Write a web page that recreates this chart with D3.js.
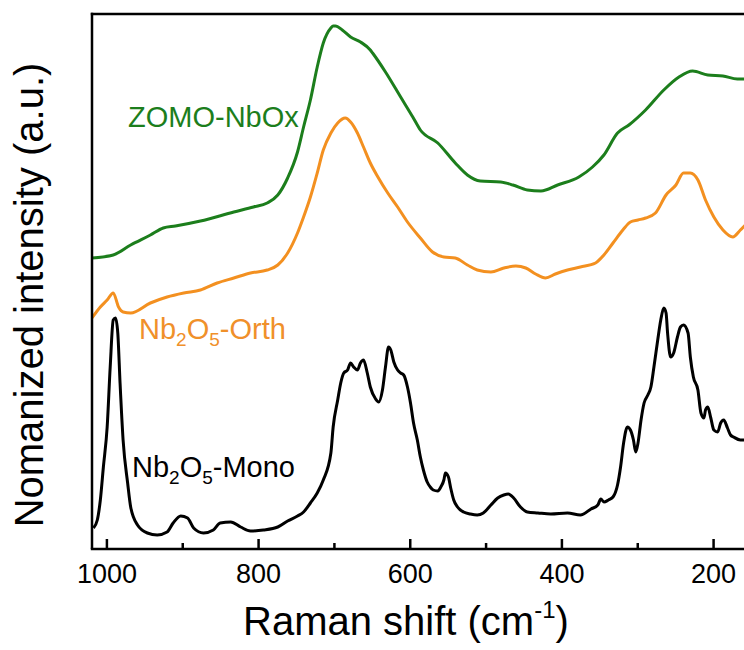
<!DOCTYPE html>
<html><head><meta charset="utf-8">
<script src="https://cdn.jsdelivr.net/npm/d3@7"></script>
<style>body{margin:0;background:#fff}svg{display:block;font-family:"Liberation Sans",Arial,sans-serif}</style>
</head><body>
<svg id="c" width="744" height="650"></svg>
<script>
// Raman shift (cm^-1) and normalized intensity (a.u.)
const greenShift = [1019,991,968,942,925,909,876,832,806,788,774,761,748,740,731,722,714,704,701,698,689,678,665,652,649,632,612,596,586,563,540,524,507,480,464,445,427,405,377,359,344,326,311,289,265,245,227,207,187,168,150];
const greenInt   = [291,294,304,314,321,323,328,337,342,346,354,371,397,422,449,482,506,521,523,523,519,512,507,499,496,477,452,432,419,406,386,374,368,367,364,359,358,364,372,382,394,416,424,439,459,472,478,474,473,470,470];

const orangeShift = [1019,1008,999,991,984,978,968,942,920,898,876,854,832,810,788,774,761,748,740,731,722,714,704,695,685,678,669,661,652,642,629,616,603,586,570,555,540,524,511,493,476,460,447,434,421,408,392,375,355,344,332,319,309,299,289,276,262,249,239,230,220,210,199,187,174,164,150];
const orangeInt   = [231,242,249,256,242,237,236,246,252,256,259,266,271,276,279,284,296,316,332,352,376,399,416,426,431,427,416,402,386,372,356,342,327,311,297,292,291,284,279,277,281,283,281,275,271,275,279,282,286,294,306,319,327,329,331,336,354,364,376,376,369,349,332,319,312,319,330];

const blackShift = [1017,1012,1008,1004,999,995,991,988,985,982,978,972,968,959,946,933,920,912,902,893,885,872,859,850,836,823,810,793,774,761,748,740,731,722,714,704,701,695,691,687,682,678,674,669,665,661,656,652,645,641,636,632,628,625,621,616,612,608,603,599,595,590,586,582,577,573,569,563,559,555,553,549,546,542,537,529,520,511,503,493,484,476,470,463,454,445,431,414,392,375,361,352,348,344,338,332,326,322,318,313,309,305,302,299,295,291,286,282,278,273,269,265,262,260,256,252,247,243,239,233,230,226,220,216,212,210,207,203,199,194,190,186,181,177,173,164,150];
const blackInt   = [21,29,49,82,122,182,229,231,216,166,109,66,42,24,16,14,17,26,33,31,21,16,19,26,27,22,18,19,22,28,33,37,46,56,69,96,122,149,166,176,179,186,182,179,186,189,176,162,150,147,159,182,202,199,187,179,176,174,162,146,126,109,92,79,67,62,59,58,62,69,76,72,61,49,42,37,35,34,36,44,51,54,55,51,42,37,36,35,36,34,40,44,50,47,49,52,64,82,106,122,119,109,97,106,129,146,154,162,182,209,229,241,236,216,192,196,212,222,224,216,192,172,159,136,131,139,142,131,119,117,126,129,121,114,112,109,109];

const seriesNames = ["ZOMO-NbOx", "Nb2O5-Orth", "Nb2O5-Mono"];
const majorTicks = [1000, 800, 600, 400, 200];
const minorTicks = [900, 700, 500, 300];

const svg = d3.select("#c");
const pL = 92, pT = 14, pB = 549, pR = 751;
const x = d3.scaleLinear().domain([1019, 150]).range([pL, pR]);
const y = d3.scaleLinear().domain([0, 535]).range([pB, pT]);

const defs = svg.append("defs");
defs.append("clipPath").attr("id","clip").append("rect")
  .attr("x", pL).attr("y", pT).attr("width", pR-pL).attr("height", pB-pT);

const line = d3.line().x(d => x(d[0])).y(d => y(d[1])).curve(d3.curveMonotoneX);
const series = [
  {s: greenShift, v: greenInt, c: "#1c7e1c"},
  {s: orangeShift, v: orangeInt, c: "#f39020"},
  {s: blackShift, v: blackInt, c: "#000000"}
];
const g = svg.append("g").attr("clip-path","url(#clip)");
series.forEach(se => {
  g.append("path").datum(se.s.map((d,i)=>[d, se.v[i]]))
    .attr("fill","none").attr("stroke", se.c).attr("stroke-width", 3)
    .attr("stroke-linejoin","round").attr("d", line);
});

// frame
svg.append("line").attr("x1", pL).attr("x2", pL).attr("y1", pT-1.2).attr("y2", pB)
  .attr("stroke","#000").attr("stroke-width",2.5);
svg.append("line").attr("x1", pL-1.2).attr("x2", 744).attr("y1", pT).attr("y2", pT)
  .attr("stroke","#000").attr("stroke-width",2.5);

const ax = svg.append("g").attr("transform", `translate(0,${pB})`)
  .call(d3.axisBottom(x).tickValues(majorTicks).tickSize(-10).tickPadding(15).tickFormat(d3.format("d")));
ax.select(".domain").attr("stroke-width",2.5).attr("d", `M${pL-1.2},0H${pR}`);
ax.selectAll(".tick line").attr("stroke-width",2.5);
ax.selectAll(".tick text").attr("font-size", 27).attr("font-family", '"Liberation Sans",Arial,sans-serif').attr("fill","#000");

const axm = svg.append("g").attr("transform", `translate(0,${pB})`)
  .call(d3.axisBottom(x).tickValues(minorTicks).tickSize(-6).tickFormat(""));
axm.select(".domain").remove();
axm.selectAll(".tick line").attr("stroke-width",2.5);

// axis titles
const xt = svg.append("text").attr("x", 243).attr("y", 635).attr("font-size", 40).attr("fill","#000");
xt.append("tspan").text("Raman shift (cm");
xt.append("tspan").attr("font-size", 24).attr("dy", -17).text("-1");
xt.append("tspan").attr("dy", 17).text(")");

svg.append("text").attr("transform", "translate(43,295) rotate(-90)")
  .attr("text-anchor","middle").attr("font-size", 40).attr("fill","#000")
  .text("Nomanized intensity (a.u.)");

// series labels
svg.append("text").attr("x", 128).attr("y", 127).attr("font-size", 29).attr("fill", "#1c7e1c").text(seriesNames[0]);

function subLabel(xp, yp, color, tail){
  const t = svg.append("text").attr("x", xp).attr("y", yp).attr("font-size", 29).attr("fill", color);
  t.append("tspan").text("Nb");
  t.append("tspan").attr("font-size", 19).attr("dy", 7).text("2");
  t.append("tspan").attr("dy", -7).text("O");
  t.append("tspan").attr("font-size", 19).attr("dy", 7).text("5");
  t.append("tspan").attr("dy", -7).text(tail);
}
subLabel(139, 339, "#f0902a", "-Orth");
subLabel(132, 477, "#000000", "-Mono");
</script>
</body></html>
